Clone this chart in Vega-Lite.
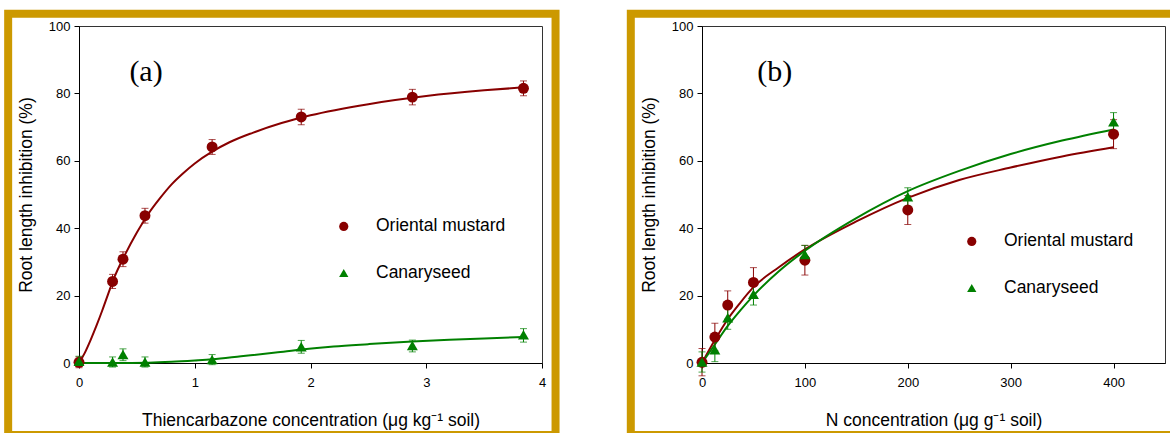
{
  "$schema": "https://vega.github.io/schema/vega-lite/v6.json",
  "background": "white",
  "padding": {"left": 3, "top": 9, "right": 0, "bottom": 0},
  "autosize": {"type": "pad"},
  "datasets": {
    "a_pts": [
      {"species": "Oriental mustard", "x": 0, "y": 0.2, "lo": -1.4, "hi": 1.8},
      {"species": "Oriental mustard", "x": 0.29, "y": 24.2, "lo": 22.1, "hi": 26.3},
      {"species": "Oriental mustard", "x": 0.38, "y": 30.8, "lo": 28.6, "hi": 33.0},
      {"species": "Oriental mustard", "x": 0.57, "y": 43.7, "lo": 41.5, "hi": 45.9},
      {"species": "Oriental mustard", "x": 1.15, "y": 64.1, "lo": 61.9, "hi": 66.3},
      {"species": "Oriental mustard", "x": 1.92, "y": 73.0, "lo": 70.7, "hi": 75.3},
      {"species": "Oriental mustard", "x": 2.88, "y": 78.9, "lo": 76.6, "hi": 81.2},
      {"species": "Oriental mustard", "x": 3.84, "y": 81.5, "lo": 79.3, "hi": 83.7},
      {"species": "Canaryseed", "x": 0, "y": 0.5, "lo": -1.0, "hi": 2.0},
      {"species": "Canaryseed", "x": 0.29, "y": 0.3, "lo": -1.2, "hi": 1.8},
      {"species": "Canaryseed", "x": 0.38, "y": 2.5, "lo": 0.7, "hi": 4.2},
      {"species": "Canaryseed", "x": 0.57, "y": 0.3, "lo": -1.2, "hi": 1.8},
      {"species": "Canaryseed", "x": 1.15, "y": 1.0, "lo": -0.5, "hi": 2.5},
      {"species": "Canaryseed", "x": 1.92, "y": 4.8, "lo": 2.9, "hi": 6.7},
      {"species": "Canaryseed", "x": 2.88, "y": 5.2, "lo": 3.3, "hi": 6.8},
      {"species": "Canaryseed", "x": 3.84, "y": 8.4, "lo": 6.2, "hi": 10.2}
    ],
    "a_fit": [
      {"species": "Oriental mustard", "x": 0, "y": 0},
      {"species": "Oriental mustard", "x": 0.05, "y": 3.0},
      {"species": "Oriental mustard", "x": 0.1, "y": 6.8},
      {"species": "Oriental mustard", "x": 0.15, "y": 11.0},
      {"species": "Oriental mustard", "x": 0.2, "y": 15.5},
      {"species": "Oriental mustard", "x": 0.25, "y": 20.3},
      {"species": "Oriental mustard", "x": 0.3, "y": 25.0},
      {"species": "Oriental mustard", "x": 0.4, "y": 32.3},
      {"species": "Oriental mustard", "x": 0.5, "y": 38.7},
      {"species": "Oriental mustard", "x": 0.6, "y": 44.3},
      {"species": "Oriental mustard", "x": 0.7, "y": 48.9},
      {"species": "Oriental mustard", "x": 0.8, "y": 53.0},
      {"species": "Oriental mustard", "x": 0.9, "y": 56.3},
      {"species": "Oriental mustard", "x": 1.0, "y": 59.2},
      {"species": "Oriental mustard", "x": 1.15, "y": 62.7},
      {"species": "Oriental mustard", "x": 1.3, "y": 65.5},
      {"species": "Oriental mustard", "x": 1.5, "y": 68.3},
      {"species": "Oriental mustard", "x": 1.75, "y": 71.2},
      {"species": "Oriental mustard", "x": 2.0, "y": 73.5},
      {"species": "Oriental mustard", "x": 2.5, "y": 76.8},
      {"species": "Oriental mustard", "x": 3.0, "y": 79.2},
      {"species": "Oriental mustard", "x": 3.5, "y": 80.9},
      {"species": "Oriental mustard", "x": 3.84, "y": 81.8},
      {"species": "Canaryseed", "x": 0, "y": 0},
      {"species": "Canaryseed", "x": 0.3, "y": 0},
      {"species": "Canaryseed", "x": 0.6, "y": 0.1},
      {"species": "Canaryseed", "x": 0.8, "y": 0.35},
      {"species": "Canaryseed", "x": 1.0, "y": 0.75},
      {"species": "Canaryseed", "x": 1.15, "y": 1.1},
      {"species": "Canaryseed", "x": 1.4, "y": 2.0},
      {"species": "Canaryseed", "x": 1.7, "y": 3.1},
      {"species": "Canaryseed", "x": 1.92, "y": 4.0},
      {"species": "Canaryseed", "x": 2.2, "y": 4.9},
      {"species": "Canaryseed", "x": 2.5, "y": 5.6},
      {"species": "Canaryseed", "x": 2.88, "y": 6.4},
      {"species": "Canaryseed", "x": 3.2, "y": 6.9},
      {"species": "Canaryseed", "x": 3.5, "y": 7.3},
      {"species": "Canaryseed", "x": 3.84, "y": 7.7}
    ],
    "b_pts": [
      {"species": "Oriental mustard", "x": 0, "y": 0.2, "lo": -3.8, "hi": 4.3},
      {"species": "Oriental mustard", "x": 12.5, "y": 7.7, "lo": 3.6, "hi": 11.8},
      {"species": "Oriental mustard", "x": 25, "y": 17.2, "lo": 13.0, "hi": 21.4},
      {"species": "Oriental mustard", "x": 50, "y": 23.9, "lo": 19.5, "hi": 28.3},
      {"species": "Oriental mustard", "x": 100, "y": 30.5, "lo": 26.1, "hi": 34.9},
      {"species": "Oriental mustard", "x": 200, "y": 45.4, "lo": 41.1, "hi": 49.7},
      {"species": "Oriental mustard", "x": 400, "y": 67.9, "lo": 63.6, "hi": 72.2},
      {"species": "Canaryseed", "x": 0, "y": 0.3, "lo": -2.7, "hi": 3.3},
      {"species": "Canaryseed", "x": 12.5, "y": 3.9, "lo": 0.4, "hi": 7.4},
      {"species": "Canaryseed", "x": 25, "y": 13.4, "lo": 10.0, "hi": 16.8},
      {"species": "Canaryseed", "x": 50, "y": 20.4, "lo": 17.2, "hi": 23.6},
      {"species": "Canaryseed", "x": 100, "y": 32.2, "lo": 29.5, "hi": 34.9},
      {"species": "Canaryseed", "x": 200, "y": 49.3, "lo": 46.6, "hi": 52.0},
      {"species": "Canaryseed", "x": 400, "y": 71.6, "lo": 68.9, "hi": 74.3}
    ],
    "b_fit": [
      {"species": "Oriental mustard", "x": 0, "y": 0},
      {"species": "Oriental mustard", "x": 12.5, "y": 6.8},
      {"species": "Oriental mustard", "x": 25, "y": 13.0},
      {"species": "Oriental mustard", "x": 37.5, "y": 18.0},
      {"species": "Oriental mustard", "x": 50, "y": 22.5},
      {"species": "Oriental mustard", "x": 75, "y": 28.5},
      {"species": "Oriental mustard", "x": 100, "y": 33.7},
      {"species": "Oriental mustard", "x": 150, "y": 42.0},
      {"species": "Oriental mustard", "x": 200, "y": 49.0},
      {"species": "Oriental mustard", "x": 250, "y": 54.3},
      {"species": "Oriental mustard", "x": 300, "y": 58.0},
      {"species": "Oriental mustard", "x": 350, "y": 61.3},
      {"species": "Oriental mustard", "x": 400, "y": 64.0},
      {"species": "Canaryseed", "x": 0, "y": 0},
      {"species": "Canaryseed", "x": 12.5, "y": 5.5},
      {"species": "Canaryseed", "x": 25, "y": 11.0},
      {"species": "Canaryseed", "x": 37.5, "y": 15.7},
      {"species": "Canaryseed", "x": 50, "y": 20.0},
      {"species": "Canaryseed", "x": 75, "y": 27.3},
      {"species": "Canaryseed", "x": 100, "y": 33.3},
      {"species": "Canaryseed", "x": 150, "y": 43.0},
      {"species": "Canaryseed", "x": 200, "y": 51.0},
      {"species": "Canaryseed", "x": 250, "y": 57.0},
      {"species": "Canaryseed", "x": 300, "y": 62.0},
      {"species": "Canaryseed", "x": 350, "y": 66.0},
      {"species": "Canaryseed", "x": 400, "y": 69.3}
    ]
  },
  "spacing": 65,
  "resolve": {
    "scale": {"color": "independent", "shape": "independent", "x": "independent", "y": "independent"},
    "legend": {"color": "independent", "shape": "independent"}
  },
  "hconcat": [
    {
      "width": 463,
      "height": 337,
      "layer": [
        {
          "data": {"values": [{}]},
          "mark": {"type": "rect", "filled": false, "fillOpacity": 0, "stroke": "#CC9900", "strokeWidth": 8, "clip": false},
          "encoding": {
            "x": {"datum": -0.612, "type": "quantitative", "scale": {"domain": [0, 4], "nice": false, "zero": false},
                  "axis": {"title": "Thiencarbazone concentration (μg kg⁻¹ soil)", "values": [0, 1, 2, 3, 4], "format": "d", "labelPadding": 8, "titlePadding": 22, "labelFlush": false}},
            "x2": {"datum": 4.117},
            "y": {"datum": 103.6, "type": "quantitative", "scale": {"domain": [0, 100], "nice": false},
                  "axis": {"title": "Root length inhibition (%)", "values": [0, 20, 40, 60, 80, 100], "labelPadding": 4, "titlePadding": 13}},
            "y2": {"datum": -21.4}
          }
        },
        {
          "data": {"values": [{}]},
          "mark": {"type": "text", "text": "(a)", "font": "Liberation Serif", "fontSize": 30, "align": "center", "baseline": "alphabetic", "color": "#000"},
          "encoding": {
            "x": {"datum": 0.579, "type": "quantitative", "scale": {"domain": [0, 4], "nice": false, "zero": false}},
            "y": {"datum": 83.7, "type": "quantitative", "scale": {"domain": [0, 100], "nice": false}}
          }
        },
        {
          "data": {"name": "a_fit"},
          "mark": {"type": "line", "strokeWidth": 2, "interpolate": "monotone"},
          "encoding": {
            "x": {"field": "x", "type": "quantitative", "scale": {"domain": [0, 4], "nice": false, "zero": false}},
            "y": {"field": "y", "type": "quantitative", "scale": {"domain": [0, 100], "nice": false}},
            "detail": {"field": "species", "type": "nominal"},
            "stroke": {"condition": {"test": "datum.species === 'Canaryseed'", "value": "#008000"}, "value": "#880000"}
          }
        },
        {
          "data": {"name": "a_pts"},
          "mark": {"type": "rule", "strokeWidth": 1},
          "encoding": {
            "x": {"field": "x", "type": "quantitative", "scale": {"domain": [0, 4], "nice": false, "zero": false}},
            "y": {"field": "lo", "type": "quantitative", "scale": {"domain": [0, 100], "nice": false}},
            "y2": {"field": "hi"},
            "stroke": {"condition": {"test": "datum.species === 'Canaryseed'", "value": "#008000"}, "value": "#880000"}
          }
        },
        {
          "data": {"name": "a_pts"},
          "mark": {"type": "tick", "orient": "horizontal", "size": 7, "thickness": 1},
          "encoding": {
            "x": {"field": "x", "type": "quantitative", "scale": {"domain": [0, 4], "nice": false, "zero": false}},
            "y": {"field": "lo", "type": "quantitative", "scale": {"domain": [0, 100], "nice": false}},
            "fill": {"condition": {"test": "datum.species === 'Canaryseed'", "value": "#008000"}, "value": "#880000"}
          }
        },
        {
          "data": {"name": "a_pts"},
          "mark": {"type": "tick", "orient": "horizontal", "size": 7, "thickness": 1},
          "encoding": {
            "x": {"field": "x", "type": "quantitative", "scale": {"domain": [0, 4], "nice": false, "zero": false}},
            "y": {"field": "hi", "type": "quantitative", "scale": {"domain": [0, 100], "nice": false}},
            "fill": {"condition": {"test": "datum.species === 'Canaryseed'", "value": "#008000"}, "value": "#880000"}
          }
        },
        {
          "data": {"name": "a_pts"},
          "mark": {"type": "point", "filled": true, "size": 120, "opacity": 1},
          "encoding": {
            "x": {"field": "x", "type": "quantitative", "scale": {"domain": [0, 4], "nice": false, "zero": false}},
            "y": {"field": "y", "type": "quantitative", "scale": {"domain": [0, 100], "nice": false}},
            "color": {"field": "species", "type": "nominal", "scale": {"domain": ["Oriental mustard", "Canaryseed"], "range": ["#880000", "#008000"]},
                      "legend": {"title": null, "orient": "none", "legendX": 256, "legendY": 191.7, "labelOffset": 23.5, "rowPadding": 27.5, "symbolSize": 85}},
            "shape": {"field": "species", "type": "nominal", "scale": {"domain": ["Oriental mustard", "Canaryseed"], "range": ["circle", "triangle-up"]},
                      "legend": {"title": null, "orient": "none", "legendX": 256, "legendY": 191.7, "labelOffset": 23.5, "rowPadding": 27.5, "symbolSize": 85}}
          }
        }
      ]
    },
    {
      "width": 463,
      "height": 337,
      "layer": [
        {
          "data": {"values": [{}]},
          "mark": {"type": "rect", "filled": false, "fillOpacity": 0, "stroke": "#CC9900", "strokeWidth": 8, "clip": false},
          "encoding": {
            "x": {"datum": -69.2, "type": "quantitative", "scale": {"domain": [0, 450], "nice": false, "zero": false},
                  "axis": {"title": "N concentration (μg g⁻¹ soil)", "values": [0, 100, 200, 300, 400], "format": "d", "labelPadding": 8, "titlePadding": 22, "labelFlush": false}},
            "x2": {"datum": 463},
            "y": {"datum": 103.6, "type": "quantitative", "scale": {"domain": [0, 100], "nice": false},
                  "axis": {"title": "Root length inhibition (%)", "values": [0, 20, 40, 60, 80, 100], "labelPadding": 4, "titlePadding": 13}},
            "y2": {"datum": -21.4}
          }
        },
        {
          "data": {"values": [{}]},
          "mark": {"type": "text", "text": "(b)", "font": "Liberation Serif", "fontSize": 30, "align": "center", "baseline": "alphabetic", "color": "#000"},
          "encoding": {
            "x": {"datum": 70.7, "type": "quantitative", "scale": {"domain": [0, 450], "nice": false, "zero": false}},
            "y": {"datum": 83.7, "type": "quantitative", "scale": {"domain": [0, 100], "nice": false}}
          }
        },
        {
          "data": {"name": "b_fit"},
          "mark": {"type": "line", "strokeWidth": 2, "interpolate": "monotone"},
          "encoding": {
            "x": {"field": "x", "type": "quantitative", "scale": {"domain": [0, 450], "nice": false, "zero": false}},
            "y": {"field": "y", "type": "quantitative", "scale": {"domain": [0, 100], "nice": false}},
            "detail": {"field": "species", "type": "nominal"},
            "stroke": {"condition": {"test": "datum.species === 'Canaryseed'", "value": "#008000"}, "value": "#880000"}
          }
        },
        {
          "data": {"name": "b_pts"},
          "mark": {"type": "rule", "strokeWidth": 1},
          "encoding": {
            "x": {"field": "x", "type": "quantitative", "scale": {"domain": [0, 450], "nice": false, "zero": false}},
            "y": {"field": "lo", "type": "quantitative", "scale": {"domain": [0, 100], "nice": false}},
            "y2": {"field": "hi"},
            "stroke": {"condition": {"test": "datum.species === 'Canaryseed'", "value": "#008000"}, "value": "#880000"}
          }
        },
        {
          "data": {"name": "b_pts"},
          "mark": {"type": "tick", "orient": "horizontal", "size": 7, "thickness": 1},
          "encoding": {
            "x": {"field": "x", "type": "quantitative", "scale": {"domain": [0, 450], "nice": false, "zero": false}},
            "y": {"field": "lo", "type": "quantitative", "scale": {"domain": [0, 100], "nice": false}},
            "fill": {"condition": {"test": "datum.species === 'Canaryseed'", "value": "#008000"}, "value": "#880000"}
          }
        },
        {
          "data": {"name": "b_pts"},
          "mark": {"type": "tick", "orient": "horizontal", "size": 7, "thickness": 1},
          "encoding": {
            "x": {"field": "x", "type": "quantitative", "scale": {"domain": [0, 450], "nice": false, "zero": false}},
            "y": {"field": "hi", "type": "quantitative", "scale": {"domain": [0, 100], "nice": false}},
            "fill": {"condition": {"test": "datum.species === 'Canaryseed'", "value": "#008000"}, "value": "#880000"}
          }
        },
        {
          "data": {"name": "b_pts"},
          "mark": {"type": "point", "filled": true, "size": 120, "opacity": 1},
          "encoding": {
            "x": {"field": "x", "type": "quantitative", "scale": {"domain": [0, 450], "nice": false, "zero": false}},
            "y": {"field": "y", "type": "quantitative", "scale": {"domain": [0, 100], "nice": false}},
            "color": {"field": "species", "type": "nominal", "scale": {"domain": ["Oriental mustard", "Canaryseed"], "range": ["#880000", "#008000"]},
                      "legend": {"title": null, "orient": "none", "legendX": 261, "legendY": 206.7, "labelOffset": 23.5, "rowPadding": 27.5, "symbolSize": 85}},
            "shape": {"field": "species", "type": "nominal", "scale": {"domain": ["Oriental mustard", "Canaryseed"], "range": ["circle", "triangle-up"]},
                      "legend": {"title": null, "orient": "none", "legendX": 261, "legendY": 206.7, "labelOffset": 23.5, "rowPadding": 27.5, "symbolSize": 85}}
          }
        }
      ]
    }
  ],
  "config": {
    "font": "Liberation Sans",
    "view": {"stroke": "#333333", "strokeWidth": 1},
    "axis": {
      "grid": false,
      "domainColor": "#000000",
      "tickColor": "#000000",
      "labelColor": "#000000",
      "titleColor": "#000000",
      "labelFont": "Liberation Sans",
      "titleFont": "Liberation Sans",
      "labelFontSize": 13,
      "titleFontSize": 17.5,
      "titleFontWeight": "normal",
      "tickSize": 5,
      "tickWidth": 1,
      "domainWidth": 1
    },
    "legend": {
      "labelFont": "Liberation Sans",
      "labelFontSize": 17.5,
      "labelColor": "#000000",
      "symbolStrokeWidth": 0,
      "labelLimit": 0
    }
  }
}
